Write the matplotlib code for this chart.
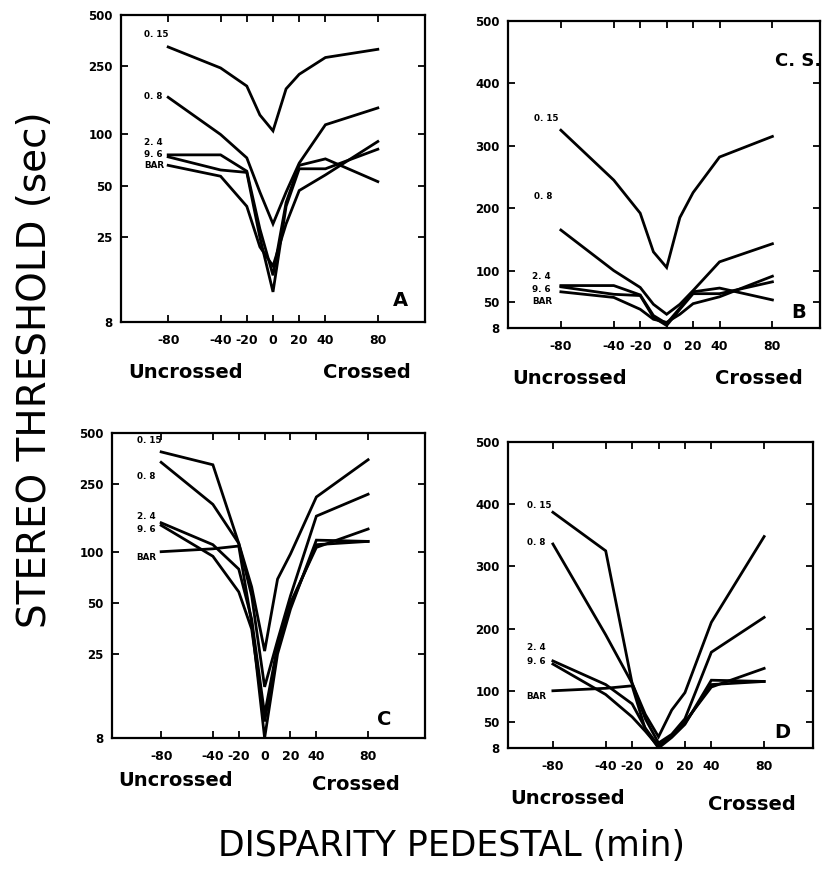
import numpy as np
import matplotlib
matplotlib.use("Agg")
import matplotlib.pyplot as plt

# disparity pedestal (min), same for every curve
disparity = [-80, -40, -20, -10, 0, 10, 20, 40, 80]
curve_names = ['0. 15', '0. 8', '2. 4', '9. 6', 'BAR']

# subject C.S. (panels A and B, same data on log / linear axes)
cs_015 = [325, 245, 192, 130, 105, 185, 225, 282, 315]
cs_08 = [165, 100, 73, 46, 30, 46, 68, 114, 143]
cs_24 = [76, 76, 61, 28, 15, 40, 66, 72, 53]
cs_96 = [74, 62, 60, 25, 12, 38, 63, 63, 82]
cs_bar = [66, 57, 38, 22, 17, 30, 47, 58, 91]

# second subject (panels C and D)
s2_015 = [387, 325, 112, 62, 26, 69, 97, 210, 348]
s2_08 = [336, 190, 112, 55, 16, 30, 55, 162, 218]
s2_24 = [148, 110, 79, 40, 11, 28, 50, 106, 136]
s2_96 = [143, 94, 58, 35, 10, 27, 48, 110, 115]
s2_bar = [100, 104, 108, 38, 8, 25, 46, 117, 115]

log_ticks = [8, 25, 50, 100, 250, 500]
lin_ticks = [8, 50, 100, 200, 300, 400, 500]
x_ticks = [-80, -40, -20, 0, 20, 40, 80]

W, H = 823, 873
fig = plt.figure(figsize=(W / 100, H / 100), dpi=100)


def px_rect(l, t, r, b):
    return [l / W, 1 - b / H, (r - l) / W, (b - t) / H]


def panel(rect, data, log, xlim, letter, letter_xy, name_pos):
    ax = fig.add_axes(px_rect(*rect))
    for ys in data:
        ax.plot(disparity, ys, color='black', lw=2.0, solid_joinstyle='miter')
    if log:
        ax.set_yscale('log')
        ax.set_yticks(log_ticks)
    else:
        ax.set_yticks(lin_ticks)
    ax.minorticks_off()
    ax.set_yticklabels([str(t) for t in ax.get_yticks()], fontsize=8.5, fontweight='bold')
    ax.set_ylim(8, 500)
    ax.set_xlim(*xlim)
    ax.set_xticks(x_ticks)
    ax.set_xticklabels([str(t) for t in x_ticks], fontsize=9, fontweight='bold')
    ax.tick_params(direction='in', length=5, width=1.3, top=True, right=True)
    ax.tick_params(axis='x', pad=9)
    ax.tick_params(axis='y', pad=6)
    for s in ax.spines.values():
        s.set_linewidth(1.6)
    for name, (fx, fy) in zip(curve_names, name_pos):
        ax.text(fx, fy, name, transform=ax.transAxes, fontsize=6.3,
                fontweight='bold', va='center', ha='left')
    ax.text(letter_xy[0], letter_xy[1], letter, transform=ax.transAxes,
            fontsize=14, fontweight='bold', ha='center', va='center')
    return ax


axA = panel((121, 15, 425, 322), [cs_015, cs_08, cs_24, cs_96, cs_bar], True,
            (-116, 116), 'A', (0.92, 0.07),
            [(0.075, 0.935), (0.075, 0.733), (0.075, 0.585), (0.075, 0.546), (0.075, 0.511)])
axB = panel((508, 21, 820, 328), [cs_015, cs_08, cs_24, cs_96, cs_bar], False,
            (-120, 116), 'B', (0.93, 0.05),
            [(0.083, 0.684), (0.083, 0.427), (0.078, 0.168), (0.078, 0.126), (0.078, 0.085)])
axB.text(0.93, 0.87, 'C. S.', transform=axB.transAxes, fontsize=13,
         fontweight='bold', ha='center', va='center')
axC = panel((112, 433, 425, 738), [s2_015, s2_08, s2_24, s2_96, s2_bar], True,
            (-118, 124), 'C', (0.87, 0.06),
            [(0.08, 0.974), (0.08, 0.856), (0.08, 0.727), (0.08, 0.684), (0.077, 0.593)])
axD = panel((508, 442, 813, 748), [s2_015, s2_08, s2_24, s2_96, s2_bar], False,
            (-114, 117), 'D', (0.90, 0.05),
            [(0.063, 0.794), (0.063, 0.673), (0.063, 0.329), (0.063, 0.283), (0.06, 0.167)])


def ftext(x, y, s, **kw):
    fig.text(x / W, 1 - y / H, s, **kw)


side_kw = dict(fontsize=14, fontweight='bold', va='center', ha='left')
ftext(128, 372, 'Uncrossed', **side_kw)
ftext(323, 372, 'Crossed', **side_kw)
ftext(512, 378, 'Uncrossed', **side_kw)
ftext(715, 378, 'Crossed', **side_kw)
ftext(118, 780, 'Uncrossed', **side_kw)
ftext(312, 784, 'Crossed', **side_kw)
ftext(510, 798, 'Uncrossed', **side_kw)
ftext(708, 804, 'Crossed', **side_kw)

ftext(35, 370, 'STEREO THRESHOLD (sec)', fontsize=28, rotation=90,
      ha='center', va='center')
ftext(452, 846, 'DISPARITY PEDESTAL (min)', fontsize=25, ha='center', va='center')

fig.savefig('out.png', dpi=100)
